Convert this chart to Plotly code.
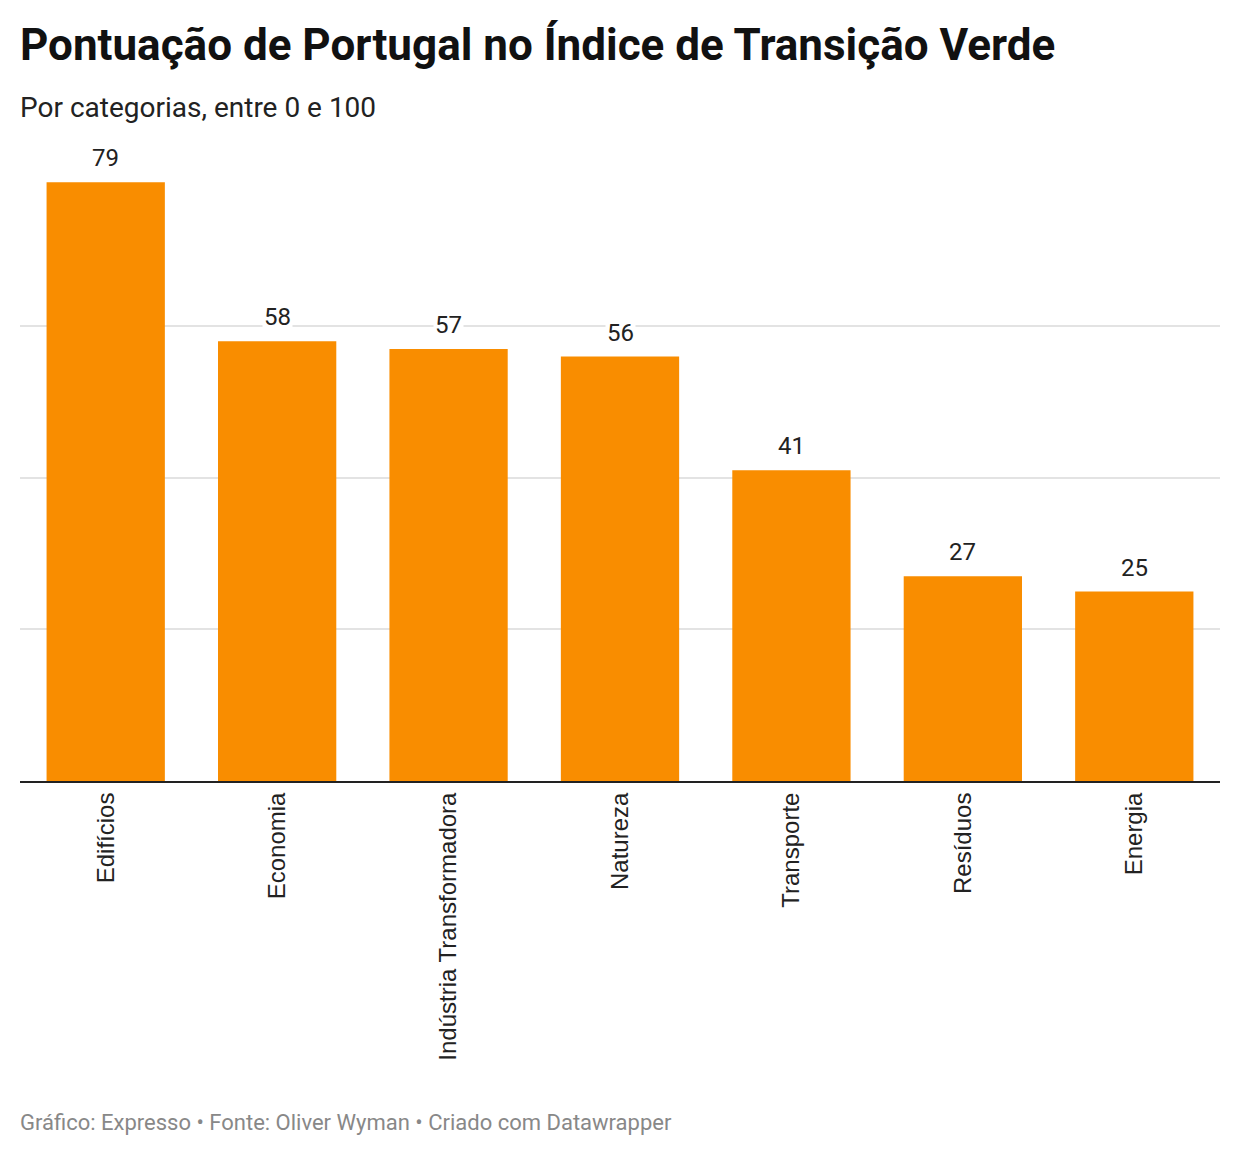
import plotly.graph_objects as go

categories = ["Edifícios", "Economia", "Indústria Transformadora", "Natureza",
              "Transporte", "Resíduos", "Energia"]
values = [79, 58, 57, 56, 41, 27, 25]
grid_ticks = [20, 40, 60]

W, H = 1240, 1156
PLOT_TOP, PLOT_BOTTOM = 140, 781
ph = PLOT_BOTTOM - PLOT_TOP
px_per_unit = 7.58
ymax = ph / px_per_unit

def py(p):
    return (PLOT_BOTTOM - p) / ph

fig = go.Figure()
fig.add_trace(go.Bar(
    x=categories, y=values,
    marker=dict(color="#F98D00", line=dict(width=0)),
    hoverinfo="skip",
))

annotations = []
for c, v in zip(categories, values):
    annotations.append(dict(
        x=c, y=v, xref="x", yref="y", text=str(v), showarrow=False,
        yanchor="middle", xanchor="center", yshift=24,
        font=dict(family="Roboto", size=24, color="#222222"),
        bgcolor="white", borderpad=1,
    ))

annotations.append(dict(
    x=0, y=py(107), xref="paper", yref="paper", xanchor="left", yanchor="middle",
    xshift=-2,
    text="Por categorias, entre 0 e 100", showarrow=False,
    font=dict(family="Roboto", size=28, color="#222222"),
))
annotations.append(dict(
    x=0, y=py(1122), xref="paper", yref="paper", xanchor="left", yanchor="middle",
    xshift=-2,
    text="Gráfico: Expresso • Fonte: Oliver Wyman • Criado com Datawrapper",
    showarrow=False,
    font=dict(family="Roboto", size=22, color="#888888"),
))

fig.update_layout(
    width=W, height=H,
    margin=dict(l=20, r=20, t=PLOT_TOP, b=H - PLOT_BOTTOM, pad=0),
    paper_bgcolor="white", plot_bgcolor="white",
    bargap=0.31,
    showlegend=False,
    title=dict(
        text="<b>Pontuação de Portugal no Índice de Transição Verde</b>",
        x=20 / W, xref="container", xanchor="left",
        y=1 - 45 / H, yref="container", yanchor="middle",
        font=dict(family="Roboto", size=44, color="#111111"),
    ),
    annotations=annotations,
    xaxis=dict(
        tickangle=-90, showgrid=False, showline=True, linecolor="#222222",
        linewidth=2, ticks="",
        tickfont=dict(family="Liberation Sans, Arial", size=24, color="#222222"),
    ),
    yaxis=dict(
        range=[0, ymax], tickvals=grid_ticks, showticklabels=False,
        showgrid=True, gridcolor="#e3e3e3", gridwidth=2, zeroline=False,
        showline=False, ticks="",
    ),
)

fig.write_html("out.html", config={"displayModeBar": False},
               post_script="document.body.style.margin='0';")
